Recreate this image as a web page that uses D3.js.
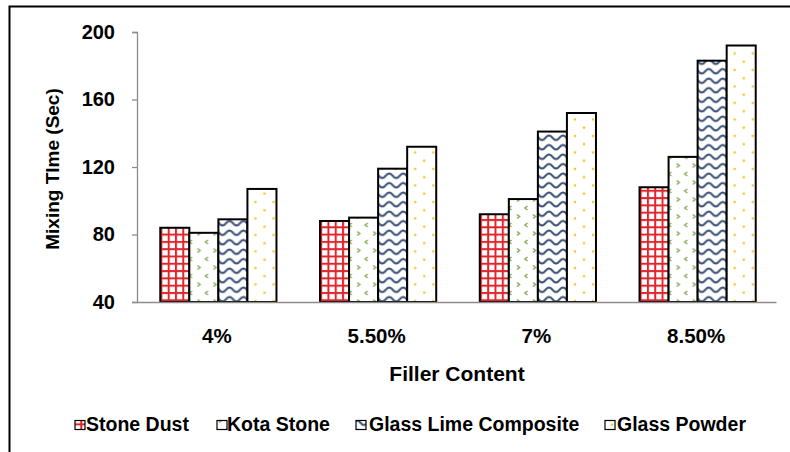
<!DOCTYPE html>
<html>
<head>
<meta charset="utf-8">
<script src="https://cdn.jsdelivr.net/npm/d3@7"></script>
<style>
  html, body { margin: 0; padding: 0; background: #fff; }
  svg { display: block; font-family: "Liberation Sans", Arial, sans-serif; }
</style>
</head>
<body>
<svg id="chart" width="790" height="452"></svg>
<script>
// Filler content levels and mixing time per filler type (seconds)
const categories = ["4%", "5.50%", "7%", "8.50%"];
const seriesNames = ["Stone Dust", "Kota Stone", "Glass Lime Composite", "Glass Powder"];
const stoneDust = [84, 88, 92, 108];
const kotaStone = [81, 90, 101, 126];
const glassLimeComposite = [89, 119, 141, 183];
const glassPowder = [107, 132, 152, 192];
const yTicks = [40, 80, 120, 160, 200];

const seriesValues = [stoneDust, kotaStone, glassLimeComposite, glassPowder];
const patternIds = ["pat-grid", "pat-chevron", "pat-wave", "pat-dots"];

const svg = d3.select("#chart");
const defs = svg.append("defs");

// Red plaid grid
const pg = defs.append("pattern").attr("id", "pat-grid").attr("patternUnits", "userSpaceOnUse")
  .attr("width", 7.3).attr("height", 7.3);
pg.append("rect").attr("width", 7.3).attr("height", 7.3).attr("fill", "#fff");
pg.append("rect").attr("x", 0).attr("y", 0).attr("width", 2).attr("height", 7.3).attr("fill", "#e2252b");
pg.append("rect").attr("x", 0).attr("y", 0).attr("width", 7.3).attr("height", 2).attr("fill", "#e2252b");

// Green chevrons
const pc = defs.append("pattern").attr("id", "pat-chevron").attr("patternUnits", "userSpaceOnUse")
  .attr("width", 16).attr("height", 17);
pc.append("rect").attr("width", 16).attr("height", 17).attr("fill", "#fff");
pc.append("path").attr("d", "M5.5,2 L3,4 L5.5,6 M11,10.5 L13.5,12.5 L11,14.5")
  .attr("fill", "none").attr("stroke", "#8cad5c").attr("stroke-width", 1.6);

// Navy waves
const pw = defs.append("pattern").attr("id", "pat-wave").attr("patternUnits", "userSpaceOnUse")
  .attr("width", 14).attr("height", 9.5);
pw.append("rect").attr("width", 14).attr("height", 9.5).attr("fill", "#fff");
pw.append("path").attr("d", "M-7,2.5 C-3.5,2.5 -3.5,7 0,7 C3.5,7 3.5,2.5 7,2.5 C10.5,2.5 10.5,7 14,7 C17.5,7 17.5,2.5 21,2.5")
  .attr("fill", "none").attr("stroke", "#3e5479").attr("stroke-width", 2);

// Yellow dots
const pd = defs.append("pattern").attr("id", "pat-dots").attr("patternUnits", "userSpaceOnUse")
  .attr("width", 18).attr("height", 16.5);
pd.append("rect").attr("width", 18).attr("height", 16.5).attr("fill", "#fff");
pd.append("circle").attr("cx", 9).attr("cy", 4).attr("r", 1.3).attr("fill", "#f9c62e");
pd.append("circle").attr("cx", 0).attr("cy", 12.25).attr("r", 1.3).attr("fill", "#f9c62e");
pd.append("circle").attr("cx", 18).attr("cy", 12.25).attr("r", 1.3).attr("fill", "#f9c62e");

// Outer frame
svg.append("rect").attr("x", 9.5).attr("y", 6.5).attr("width", 800).attr("height", 460)
  .attr("fill", "none").attr("stroke", "#000").attr("stroke-width", 2);

const plot = { left: 137, right: 776, top: 32, bottom: 302 };

const x0 = d3.scaleBand().domain(categories).range([plot.left, plot.right]);
const x1 = d3.scaleBand().domain(seriesNames).range([0, x0.bandwidth()]).paddingOuter(0.75).paddingInner(0);
const y = d3.scaleLinear().domain([40, 200]).range([plot.bottom, plot.top]);

// Bars
const groups = svg.append("g").selectAll("g").data(categories).join("g")
  .attr("transform", d => `translate(${x0(d) + 1.5},0)`);
groups.selectAll("rect")
  .data((c, ci) => seriesNames.map((s, si) => ({ s, si, v: seriesValues[si][ci] })))
  .join("rect")
  .attr("x", d => x1(d.s))
  .attr("y", d => y(d.v))
  .attr("width", x1.bandwidth())
  .attr("height", d => y(40) - y(d.v))
  .attr("fill", d => `url(#${patternIds[d.si]})`)
  .attr("stroke", "#000").attr("stroke-width", 2);

// Y axis
const yAxis = d3.axisLeft(y).tickValues(yTicks).tickSize(5).tickPadding(17);
const yg = svg.append("g").attr("transform", `translate(${plot.left},0)`).call(yAxis);
yg.select(".domain").attr("stroke", "#8c8c8c").attr("stroke-width", 1.3);
yg.selectAll(".tick line").attr("stroke", "#8c8c8c").attr("stroke-width", 1.3);
yg.selectAll(".tick text").attr("font-size", 20).attr("font-weight", "bold").attr("fill", "#000")
  .attr("font-family", "Liberation Sans, Arial, sans-serif");

// X axis
const xAxis = d3.axisBottom(x0).tickSize(0).tickPadding(26);
const xg = svg.append("g").attr("transform", `translate(0,${plot.bottom})`).call(xAxis);
xg.select(".domain").attr("stroke", "#8c8c8c").attr("stroke-width", 1.3);
xg.selectAll(".tick text").attr("font-size", 20.5).attr("font-weight", "bold").attr("fill", "#000")
  .attr("font-family", "Liberation Sans, Arial, sans-serif");

// Axis titles
svg.append("text").attr("x", 457).attr("y", 381).attr("text-anchor", "middle")
  .attr("font-size", 21).attr("font-weight", "bold").text("Filler Content");
svg.append("text").attr("transform", "translate(59,169) rotate(-90)").attr("text-anchor", "middle")
  .attr("font-size", 19).attr("font-weight", "bold").text("Mixing TIme (Sec)");

// Legend
const legendIconX = [75, 217, 356, 605];
const legendTextX = [86, 227, 369, 617];
const legend = svg.append("g").selectAll("g").data(seriesNames).join("g");
legend.append("rect")
  .attr("x", (d, i) => legendIconX[i]).attr("y", 420.5).attr("width", 10).attr("height", 9)
  .attr("fill", (d, i) => `url(#${patternIds[i]})`).attr("stroke", "#000").attr("stroke-width", 1.2);
legend.append("text").attr("x", (d, i) => legendTextX[i]).attr("y", 431)
  .attr("font-size", 19.5).attr("font-weight", "bold").text(d => d);
</script>
</body>
</html>
